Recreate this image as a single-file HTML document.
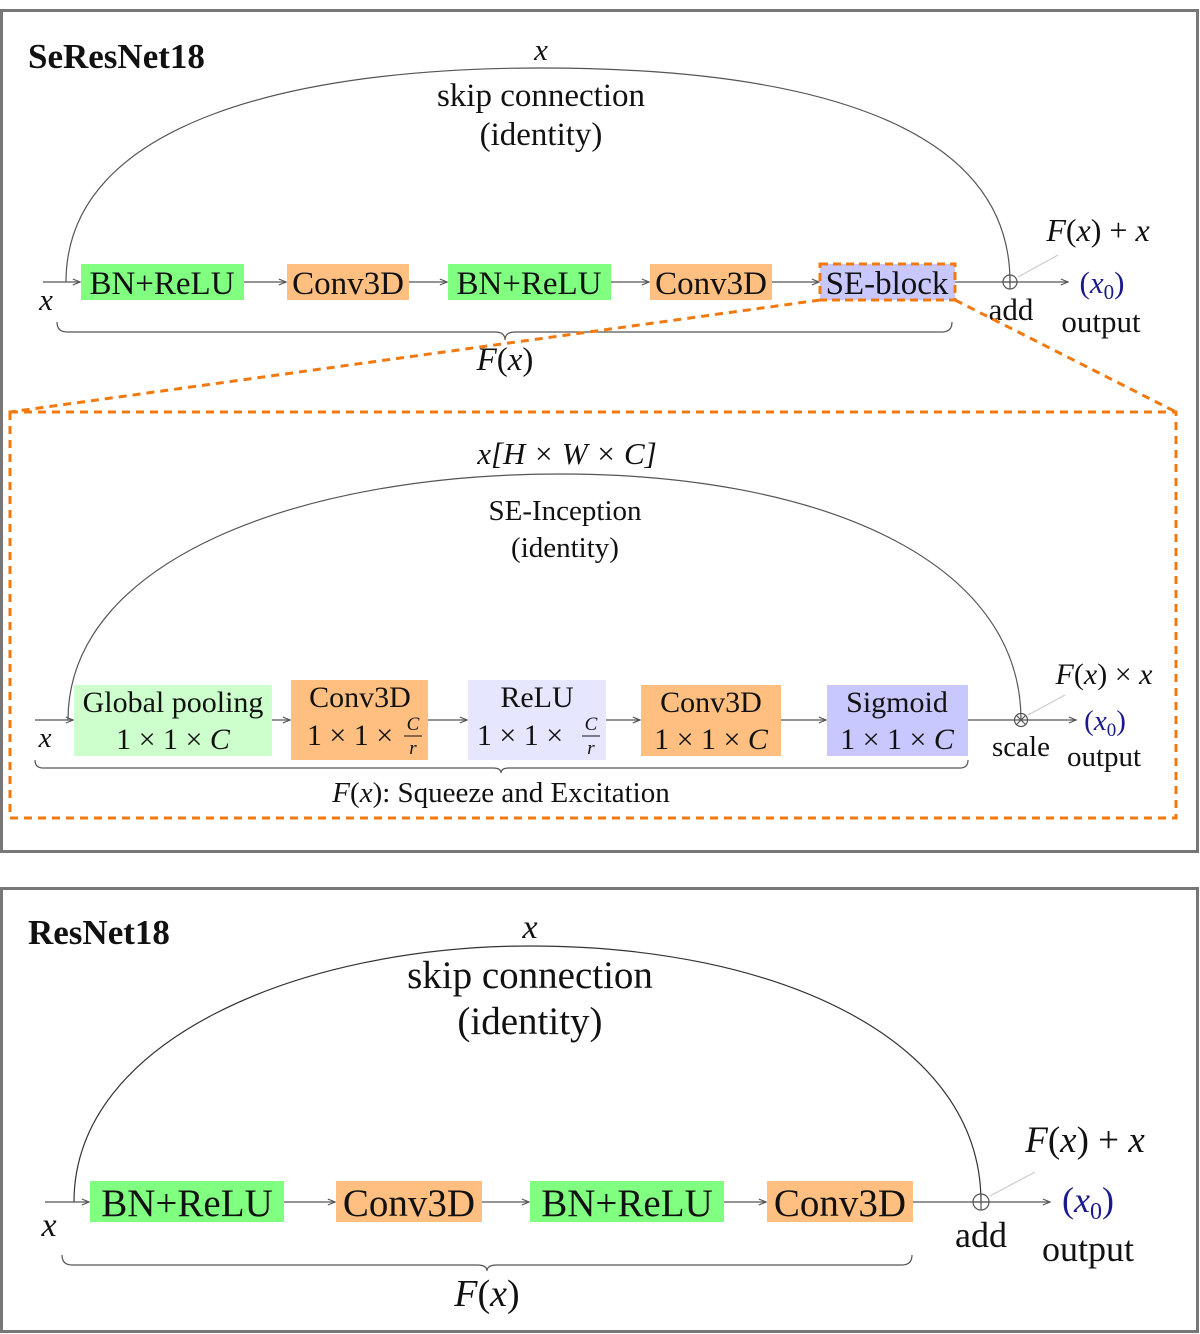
<!DOCTYPE html>
<html><head><meta charset="utf-8"><style>
body{margin:0;background:#fff}
svg{display:block}
text{font-family:"Liberation Serif",serif;fill:#111}
.i{font-style:italic}
.b{fill:#1a1a8c}
</style></head><body>
<svg width="1200" height="1334" viewBox="0 0 1200 1334">
<defs><marker id="a" markerWidth="8" markerHeight="8" refX="7" refY="4" orient="auto"><path d="M1,1.5 L7,4 L1,6.5" fill="none" stroke="#555" stroke-width="1"/></marker></defs>
<rect x="1.5" y="10.5" width="1196" height="841" fill="none" stroke="#777" stroke-width="3"/>
<rect x="1.5" y="888.5" width="1196" height="443" fill="none" stroke="#777" stroke-width="3"/>

<!-- Top panel -->
<text x="28" y="68" font-size="35" font-weight="bold">SeResNet18</text>
<path d="M66,282 C66,120 300,68 540,68 C800,68 1010,120 1010,282" fill="none" stroke="#555" stroke-width="1.2"/>
<text x="541" y="60" font-size="31" text-anchor="middle" class="i">x</text>
<text x="541" y="106" font-size="33" text-anchor="middle">skip connection</text>
<text x="541" y="145" font-size="33" text-anchor="middle">(identity)</text>
<g stroke="#555" stroke-width="1.2" fill="none">
<line x1="43" y1="282" x2="80" y2="282" marker-end="url(#a)"/>
<line x1="244" y1="282" x2="286" y2="282" marker-end="url(#a)"/>
<line x1="409" y1="282" x2="447" y2="282" marker-end="url(#a)"/>
<line x1="611" y1="282" x2="649" y2="282" marker-end="url(#a)"/>
<line x1="772" y1="282" x2="819" y2="282" marker-end="url(#a)"/>
<line x1="955" y1="282" x2="1068" y2="282" marker-end="url(#a)"/>
<circle cx="1010" cy="282" r="7"/><line x1="1003" y1="282" x2="1017" y2="282"/><line x1="1010" y1="275" x2="1010" y2="289"/>
<line x1="1018" y1="277" x2="1058" y2="255" stroke="#ccc"/>
</g>
<rect x="81" y="264" width="163" height="36" fill="#80ff80"/>
<rect x="287" y="264" width="122" height="36" fill="#ffbf80"/>
<rect x="448" y="264" width="163" height="36" fill="#80ff80"/>
<rect x="650" y="264" width="122" height="36" fill="#ffbf80"/>
<rect x="820" y="264" width="135" height="36" fill="#c8c8ff" stroke="#f07a10" stroke-width="3" stroke-dasharray="8,5"/>
<g font-size="33" text-anchor="middle">
<text x="162" y="294">BN+ReLU</text><text x="348" y="294">Conv3D</text>
<text x="529" y="294">BN+ReLU</text><text x="711" y="294">Conv3D</text><text x="887" y="294">SE-block</text>
</g>
<text x="46" y="310" font-size="31" text-anchor="middle" class="i">x</text>
<text x="1098" y="241" font-size="32" text-anchor="middle"><tspan class="i">F</tspan>(<tspan class="i">x</tspan>) + <tspan class="i">x</tspan></text>
<text x="1102" y="293" font-size="31" text-anchor="middle" class="b">(<tspan class="i b">x</tspan><tspan class="b" font-size="21" dy="6">0</tspan><tspan class="b" dy="-6">)</tspan></text>
<text x="1011" y="320" font-size="31" text-anchor="middle">add</text>
<text x="1101" y="332" font-size="31" text-anchor="middle">output</text>
<path d="M57,322 q0,10 10,10 L495,332 q10,0 10,8 q0,-8 10,-8 L942,332 q10,0 10,-10" fill="none" stroke="#555" stroke-width="1.2"/>
<text x="505" y="370" font-size="33" text-anchor="middle"><tspan class="i">F</tspan>(<tspan class="i">x</tspan>)</text>

<g stroke="#f07a10" stroke-width="3" stroke-dasharray="8,6" fill="none">
<line x1="820" y1="300" x2="10" y2="412"/>
<line x1="955" y1="300" x2="1176" y2="412"/>
<rect x="10" y="412" width="1166" height="406"/>
</g>

<!-- SE block -->
<text x="567" y="464" font-size="31" text-anchor="middle" class="i">x[H × W × C]</text>
<path d="M68,720 C68,560 300,474 560,474 C820,474 1021,560 1021,720" fill="none" stroke="#555" stroke-width="1.2"/>
<text x="565" y="520" font-size="29" text-anchor="middle">SE-Inception</text>
<text x="565" y="557" font-size="29" text-anchor="middle">(identity)</text>
<g stroke="#555" stroke-width="1.2" fill="none">
<line x1="35" y1="720" x2="73" y2="720" marker-end="url(#a)"/>
<line x1="272" y1="720" x2="290" y2="720" marker-end="url(#a)"/>
<line x1="428" y1="720" x2="467" y2="720" marker-end="url(#a)"/>
<line x1="606" y1="720" x2="640" y2="720" marker-end="url(#a)"/>
<line x1="781" y1="720" x2="826" y2="720" marker-end="url(#a)"/>
<line x1="968" y1="720" x2="1076" y2="720" marker-end="url(#a)"/>
<circle cx="1021" cy="720" r="6.5"/><line x1="1016.5" y1="715.5" x2="1025.5" y2="724.5"/><line x1="1025.5" y1="715.5" x2="1016.5" y2="724.5"/>
<line x1="1028" y1="715" x2="1065" y2="695" stroke="#ccc"/>
</g>
<rect x="74" y="685" width="198" height="71" fill="#ccffcc"/>
<rect x="291" y="680" width="137" height="80" fill="#ffbf80"/>
<rect x="468" y="680" width="138" height="80" fill="#e6e6ff"/>
<rect x="641" y="685" width="140" height="71" fill="#ffbf80"/>
<rect x="827" y="685" width="141" height="71" fill="#c8c8ff"/>
<g font-size="30" text-anchor="middle">
<text x="173" y="712">Global pooling</text><text x="173" y="749">1 × 1 × <tspan class="i">C</tspan></text>
<text x="360" y="707">Conv3D</text><text x="350" y="745">1 × 1 ×</text>
<text x="537" y="707">ReLU</text><text x="520" y="745">1 × 1 ×</text>
<text x="711" y="712">Conv3D</text><text x="711" y="749">1 × 1 × <tspan class="i">C</tspan></text>
<text x="897" y="712">Sigmoid</text><text x="897" y="749">1 × 1 × <tspan class="i">C</tspan></text>
</g>
<g font-size="19" text-anchor="middle" class="i">
<text x="413" y="730">C</text><text x="413" y="754">r</text>
<text x="591" y="730">C</text><text x="591" y="754">r</text>
</g>
<line x1="404" y1="736" x2="422" y2="736" stroke="#111"/>
<line x1="582" y1="736" x2="600" y2="736" stroke="#111"/>
<text x="45" y="747" font-size="29" text-anchor="middle" class="i">x</text>
<text x="1104" y="684" font-size="30" text-anchor="middle"><tspan class="i">F</tspan>(<tspan class="i">x</tspan>) × <tspan class="i">x</tspan></text>
<text x="1105" y="730" font-size="29" text-anchor="middle" class="b">(<tspan class="i b">x</tspan><tspan class="b" font-size="19" dy="6">0</tspan><tspan class="b" dy="-6">)</tspan></text>
<text x="1021" y="756" font-size="29" text-anchor="middle">scale</text>
<text x="1104" y="766" font-size="29" text-anchor="middle">output</text>
<path d="M35,760 q0,8 8,8 L493,768 q8,0 8,5 q0,-5 8,-5 L960,768 q8,0 8,-8" fill="none" stroke="#555" stroke-width="1.2"/>
<text x="501" y="802" font-size="29" text-anchor="middle"><tspan class="i">F</tspan>(<tspan class="i">x</tspan>):  Squeeze and Excitation</text>

<!-- Bottom panel -->
<text x="28" y="944" font-size="35" font-weight="bold">ResNet18</text>
<path d="M74,1202 C74,1040 300,946 530,946 C780,946 981,1040 981,1202" fill="none" stroke="#333" stroke-width="1.2"/>
<text x="530" y="938" font-size="34" text-anchor="middle" class="i">x</text>
<text x="530" y="988" font-size="39" text-anchor="middle">skip connection</text>
<text x="530" y="1034" font-size="39" text-anchor="middle">(identity)</text>
<g stroke="#555" stroke-width="1.2" fill="none">
<line x1="45" y1="1202" x2="89" y2="1202" marker-end="url(#a)"/>
<line x1="284" y1="1202" x2="335" y2="1202" marker-end="url(#a)"/>
<line x1="482" y1="1202" x2="529" y2="1202" marker-end="url(#a)"/>
<line x1="724" y1="1202" x2="766" y2="1202" marker-end="url(#a)"/>
<line x1="913" y1="1202" x2="1050" y2="1202" marker-end="url(#a)"/>
<circle cx="981" cy="1202" r="8"/><line x1="973" y1="1202" x2="989" y2="1202"/><line x1="981" y1="1194" x2="981" y2="1210"/>
<line x1="990" y1="1196" x2="1035" y2="1172" stroke="#ccc"/>
</g>
<rect x="90" y="1181" width="194" height="41" fill="#80ff80"/>
<rect x="336" y="1181" width="146" height="41" fill="#ffbf80"/>
<rect x="530" y="1181" width="194" height="41" fill="#80ff80"/>
<rect x="767" y="1181" width="146" height="41" fill="#ffbf80"/>
<g font-size="39" text-anchor="middle">
<text x="187" y="1216">BN+ReLU</text><text x="409" y="1216">Conv3D</text>
<text x="627" y="1216">BN+ReLU</text><text x="840" y="1216">Conv3D</text>
</g>
<text x="49" y="1236" font-size="34" text-anchor="middle" class="i">x</text>
<text x="1085" y="1152" font-size="37" text-anchor="middle"><tspan class="i">F</tspan>(<tspan class="i">x</tspan>) + <tspan class="i">x</tspan></text>
<text x="1088" y="1212" font-size="36" text-anchor="middle" class="b">(<tspan class="i b">x</tspan><tspan class="b" font-size="24" dy="7">0</tspan><tspan class="b" dy="-7">)</tspan></text>
<text x="981" y="1247" font-size="36" text-anchor="middle">add</text>
<text x="1088" y="1261" font-size="36" text-anchor="middle">output</text>
<path d="M62,1255 q0,10 10,10 L477,1265 q10,0 10,6 q0,-6 10,-6 L902,1265 q10,0 10,-10" fill="none" stroke="#555" stroke-width="1.2"/>
<text x="487" y="1306" font-size="38" text-anchor="middle"><tspan class="i">F</tspan>(<tspan class="i">x</tspan>)</text>
</svg>
</body></html>
